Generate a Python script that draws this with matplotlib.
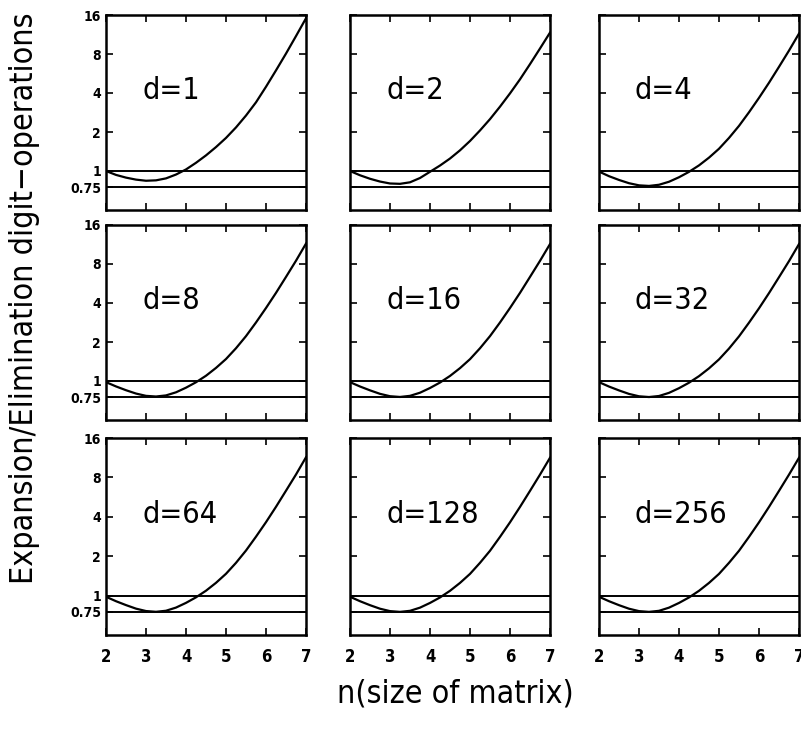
import matplotlib
matplotlib.use("Agg")
import matplotlib.pyplot as plt
from matplotlib.ticker import FixedLocator, FixedFormatter, NullLocator

# matrix size n, curves at quarter steps
n = [2.0, 2.25, 2.5, 2.75, 3.0, 3.25, 3.5, 3.75, 4.0, 4.25, 4.5,
     4.75, 5.0, 5.25, 5.5, 5.75, 6.0, 6.25, 6.5, 6.75, 7.0]

d_values = [1, 2, 4, 8, 16, 32, 64, 128, 256]

# expansion / elimination digit-operation ratio for each d
ratio_d1 = [1.00, 0.933, 0.889, 0.858, 0.841, 0.847, 0.877, 0.939, 1.028, 1.157, 1.32,
            1.53, 1.80, 2.17, 2.68, 3.39, 4.47, 5.98, 8.06, 11.0, 15.1]
ratio_d2 = [1.00, 0.927, 0.871, 0.829, 0.801, 0.796, 0.818, 0.883, 0.986, 1.102, 1.248,
            1.444, 1.705, 2.056, 2.514, 3.138, 3.972, 5.10, 6.68, 8.82, 11.7]
ratio_d4 = [0.99, 0.912, 0.853, 0.805, 0.775, 0.767, 0.783, 0.826, 0.895, 0.985, 1.105,
            1.268, 1.485, 1.80, 2.23, 2.84, 3.67, 4.80, 6.37, 8.50, 11.5]
ratio_d8 = [0.98, 0.908, 0.849, 0.800, 0.768, 0.759, 0.774, 0.818, 0.888, 0.978, 1.098,
            1.262, 1.478, 1.79, 2.22, 2.83, 3.66, 4.79, 6.36, 8.48, 11.5]
ratio_d16 = [0.98, 0.907, 0.847, 0.796, 0.763, 0.753, 0.768, 0.812, 0.883, 0.973, 1.094,
             1.257, 1.474, 1.79, 2.22, 2.83, 3.66, 4.79, 6.36, 8.46, 11.4]
ratio_d32 = [0.98, 0.906, 0.846, 0.795, 0.762, 0.752, 0.766, 0.810, 0.880, 0.970, 1.090,
             1.252, 1.468, 1.78, 2.21, 2.82, 3.64, 4.77, 6.33, 8.42, 11.4]
ratio_d64 = [0.98, 0.906, 0.846, 0.795, 0.762, 0.752, 0.766, 0.810, 0.880, 0.970, 1.090,
             1.252, 1.468, 1.78, 2.21, 2.82, 3.64, 4.77, 6.33, 8.42, 11.4]
ratio_d128 = [0.98, 0.906, 0.845, 0.794, 0.761, 0.751, 0.765, 0.809, 0.879, 0.968, 1.088,
              1.250, 1.465, 1.78, 2.20, 2.81, 3.63, 4.76, 6.31, 8.40, 11.3]
ratio_d256 = [0.98, 0.906, 0.845, 0.794, 0.761, 0.751, 0.765, 0.809, 0.879, 0.968, 1.088,
              1.250, 1.465, 1.78, 2.20, 2.81, 3.63, 4.76, 6.31, 8.40, 11.3]

ratios = [ratio_d1, ratio_d2, ratio_d4, ratio_d8, ratio_d16,
          ratio_d32, ratio_d64, ratio_d128, ratio_d256]

ref_lines = [1.0, 0.75]
y_ticks = [0.75, 1, 2, 4, 8, 16]
y_labels = ["0.75", "1", "2", "4", "8", "16"]
x_ticks = [2, 3, 4, 5, 6, 7]

FONT = dict(family="DejaVu Sans", stretch="condensed")

W, H = 801, 730
fig = plt.figure(figsize=(W / 100, H / 100), dpi=100)

col_left = [106, 350, 599]
col_w = 200
rows = [(15, 210), (225, 420), (438, 635)]

for i, d in enumerate(d_values):
    r, c = divmod(i, 3)
    top, bot = rows[r]
    ax = fig.add_axes([col_left[c] / W, 1 - bot / H, col_w / W, (bot - top) / H])
    ax.set_yscale("log", base=2)
    ax.set_xlim(2, 7)
    ax.set_ylim(0.5, 16)

    for yv in ref_lines:
        ax.axhline(yv, color="black", lw=1.4)
    ax.plot(n, ratios[i], color="black", lw=1.6)

    ax.text(2.9, 4.2, "d=%d" % d, fontsize=22, va="center", ha="left", **FONT)

    ax.yaxis.set_major_locator(FixedLocator(y_ticks))
    ax.yaxis.set_minor_locator(NullLocator())
    ax.set_xticks(x_ticks)
    ax.tick_params(direction="in", length=5, width=1.2,
                   top=True, right=True, bottom=True, left=True)
    for s in ax.spines.values():
        s.set_linewidth(1.8)

    if c == 0:
        ax.yaxis.set_major_formatter(FixedFormatter(y_labels))
        for t in ax.get_yticklabels():
            t.set_fontweight("bold")
            t.set_fontsize(10)
            t.set_family("DejaVu Sans")
            t.set_stretch("condensed")
    else:
        ax.set_yticklabels([])
    if r == 2:
        ax.set_xticklabels([str(x) for x in x_ticks], fontsize=12,
                           fontweight="bold", **FONT)
        ax.tick_params(axis="x", pad=9)
    else:
        ax.set_xticklabels([])

fig.text(0.03, 1 - 298 / H, "Expansion/Elimination digit\u2212operations", rotation=90,
         ha="center", va="center", fontsize=23, **FONT)
fig.text(455 / W, 1 - 694 / H, "n(size of matrix)", ha="center", va="center",
         fontsize=23, **FONT)

fig.savefig("out.png", dpi=100)
